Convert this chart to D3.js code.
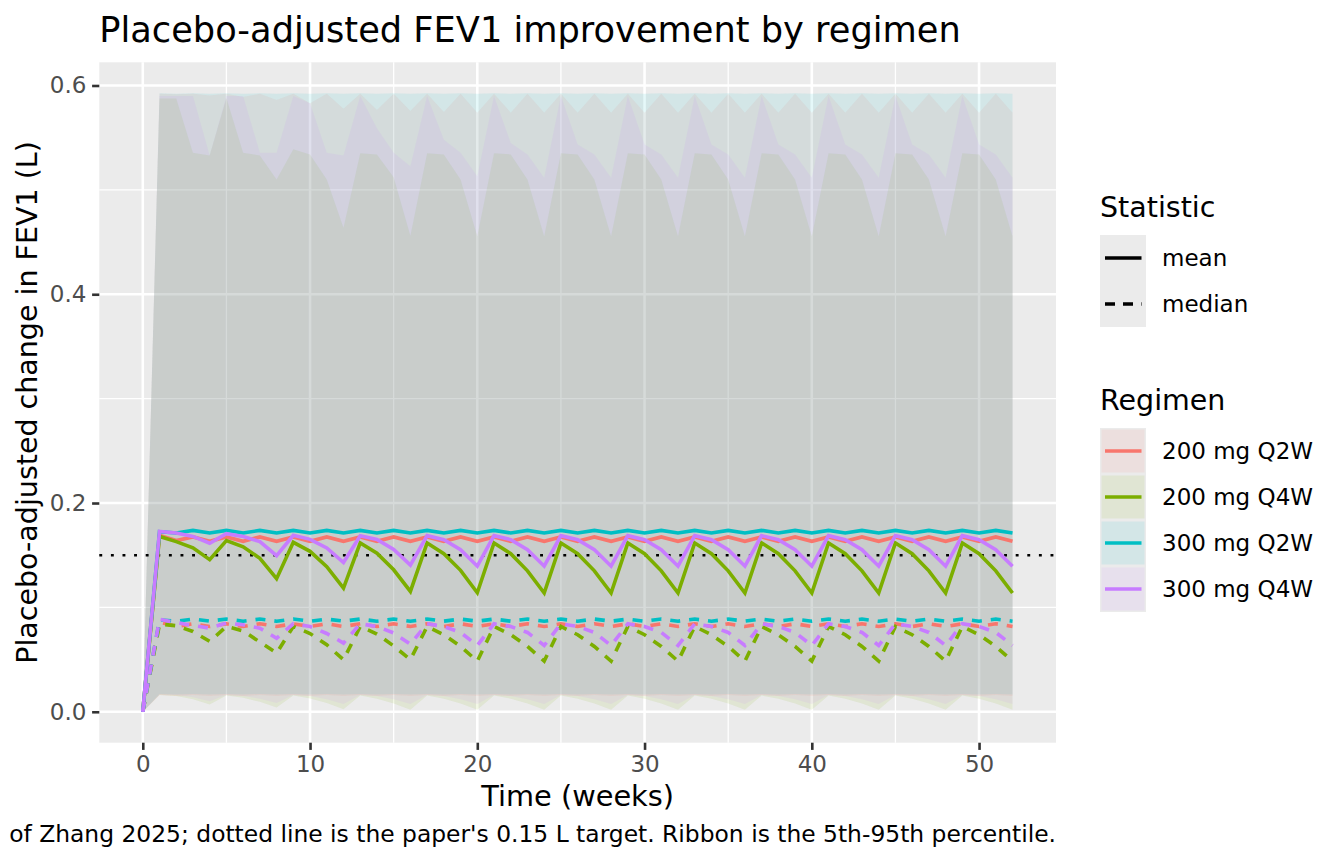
<!DOCTYPE html>
<html><head><meta charset="utf-8">
<script src="https://cdn.jsdelivr.net/npm/d3@7"></script>
<style>
html,body{margin:0;padding:0;background:#fff;}
svg{display:block;font-family:"DejaVu Sans",sans-serif;}
</style></head><body>
<svg id="chart" width="1344" height="864"></svg>
<script>
// ---------- DATA ----------
const weeks = [0,1,2,3,4,5,6,7,8,9,10,11,12,13,14,15,16,17,18,19,20,21,22,23,24,25,26,27,28,29,30,31,32,33,34,35,36,37,38,39,40,41,42,43,44,45,46,47,48,49,50,51,52];
const regimens = ["200 mg Q2W","200 mg Q4W","300 mg Q2W","300 mg Q4W"];
const statistics = ["mean","median"];
const xTicks = [0,10,20,30,40,50];
const yTicks = [0,0.2,0.4,0.6];
const targetValue = 0.15;

// 200 mg Q2W
const mean_200Q2W = [0,0.1690,
 0.1640,0.1675,0.1633,0.1675,0.1633,0.1675,0.1633,0.1675,0.1633,0.1675,
 0.1633,0.1675,0.1633,0.1675,0.1633,0.1675,0.1633,0.1675,0.1633,0.1675,
 0.1633,0.1675,0.1633,0.1675,0.1633,0.1675,0.1633,0.1675,0.1633,0.1675,
 0.1633,0.1675,0.1633,0.1675,0.1633,0.1675,0.1633,0.1675,0.1633,0.1675,
 0.1633,0.1675,0.1633,0.1675,0.1633,0.1675,0.1633,0.1675,0.1633,0.1675,
 0.1633];
const median_200Q2W = [0,0.0860,
 0.0817,0.0843,0.0817,0.0843,0.0817,0.0843,0.0817,0.0843,0.0817,0.0843,
 0.0817,0.0843,0.0817,0.0843,0.0817,0.0843,0.0817,0.0843,0.0817,0.0843,
 0.0817,0.0843,0.0817,0.0843,0.0817,0.0843,0.0817,0.0843,0.0817,0.0843,
 0.0817,0.0843,0.0817,0.0843,0.0817,0.0843,0.0817,0.0843,0.0817,0.0843,
 0.0817,0.0843,0.0817,0.0843,0.0817,0.0843,0.0817,0.0843,0.0817,0.0843,
 0.0817];
const lo_200Q2W = [0,0.0160,
 0.0150,0.0160,0.0150,0.0160,0.0150,0.0160,0.0150,0.0160,0.0150,0.0160,
 0.0150,0.0160,0.0150,0.0160,0.0150,0.0160,0.0150,0.0160,0.0150,0.0160,
 0.0150,0.0160,0.0150,0.0160,0.0150,0.0160,0.0150,0.0160,0.0150,0.0160,
 0.0150,0.0160,0.0150,0.0160,0.0150,0.0160,0.0150,0.0160,0.0150,0.0160,
 0.0150,0.0160,0.0150,0.0160,0.0150,0.0160,0.0150,0.0160,0.0150,0.0160,
 0.0150];
const hi_200Q2W = [0,0.5920,
 0.5915,0.5920,0.5905,0.5920,0.5890,0.5920,0.5860,0.5920,0.5830,0.5920,
 0.5777,0.5920,0.5765,0.5920,0.5755,0.5920,0.5745,0.5920,0.5740,0.5920,
 0.5740,0.5920,0.5740,0.5920,0.5740,0.5920,0.5740,0.5920,0.5740,0.5920,
 0.5740,0.5920,0.5740,0.5920,0.5740,0.5920,0.5740,0.5920,0.5740,0.5920,
 0.5740,0.5920,0.5740,0.5920,0.5740,0.5920,0.5740,0.5920,0.5740,0.5920,
 0.5740];

// 200 mg Q4W
const mean_200Q4W = [0,0.1680,0.1630,0.1570,0.1457,0.1640,0.1580,0.1470,0.1275,
 0.1623,0.1537,0.1390,0.1185,0.1617,0.1520,0.1360,0.1153,0.1617,0.1515,0.1355,0.1140,
 0.1617,0.1515,0.1350,0.1138,0.1617,0.1515,0.1350,0.1138,
 0.1617,0.1515,0.1350,0.1138,0.1617,0.1515,0.1350,0.1138,
 0.1617,0.1515,0.1350,0.1138,0.1617,0.1515,0.1350,0.1138,
 0.1617,0.1515,0.1350,0.1138,0.1617,0.1515,0.1350,0.1138];
const median_200Q4W = [0,0.0840,0.0824,0.0769,0.0674,0.0817,0.0775,0.0668,0.0562,
 0.0817,0.0750,0.0642,0.0498,0.0817,0.0745,0.0630,0.0500,
 0.0817,0.0738,0.0626,0.0485,0.0817,0.0738,0.0626,0.0485,
 0.0817,0.0738,0.0626,0.0485,0.0817,0.0738,0.0626,0.0485,
 0.0817,0.0738,0.0626,0.0485,0.0817,0.0738,0.0626,0.0485,
 0.0817,0.0738,0.0626,0.0485,0.0817,0.0738,0.0626,0.0485,
 0.0817,0.0738,0.0626,0.0485];
const lo_200Q4W = [0,0.0160,0.0150,0.0120,0.0070,0.0155,0.0135,0.0095,0.0040,
 0.0155,0.0128,0.0085,0.0025,
 0.0155,0.0125,0.0080,0.0020,0.0155,0.0125,0.0080,0.0020,
 0.0155,0.0125,0.0080,0.0020,0.0155,0.0125,0.0080,0.0020,
 0.0155,0.0125,0.0080,0.0020,0.0155,0.0125,0.0080,0.0020,
 0.0155,0.0125,0.0080,0.0020,0.0155,0.0125,0.0080,0.0020,
 0.0155,0.0125,0.0080,0.0020,0.0155,0.0125,0.0080,0.0020];
const hi_200Q4W = [0,0.5875,0.5875,0.5355,0.5330,0.5880,0.5355,0.5330,0.5100,
 0.5390,0.5340,0.5100,0.4636,0.5350,0.5340,0.5120,0.4560,
 0.5350,0.5340,0.5100,0.4556,0.5350,0.5340,0.5100,0.4556,
 0.5350,0.5340,0.5100,0.4556,0.5350,0.5340,0.5100,0.4556,
 0.5350,0.5340,0.5100,0.4556,0.5350,0.5340,0.5100,0.4556,
 0.5350,0.5340,0.5100,0.4556,0.5350,0.5340,0.5100,0.4556,
 0.5350,0.5340,0.5100,0.4556];

// 300 mg Q2W
const mean_300Q2W = [0,0.1725,
 0.1713,0.1738,0.1713,0.1738,0.1713,0.1738,0.1713,0.1738,0.1713,0.1738,
 0.1713,0.1738,0.1713,0.1738,0.1713,0.1738,0.1713,0.1738,0.1713,0.1738,
 0.1713,0.1738,0.1713,0.1738,0.1713,0.1738,0.1713,0.1738,0.1713,0.1738,
 0.1713,0.1738,0.1713,0.1738,0.1713,0.1738,0.1713,0.1738,0.1713,0.1738,
 0.1713,0.1738,0.1713,0.1738,0.1713,0.1738,0.1713,0.1738,0.1713,0.1738,
 0.1713];
const median_300Q2W = [0,0.0880,
 0.0868,0.0888,0.0868,0.0888,0.0868,0.0888,0.0868,0.0888,0.0868,0.0888,
 0.0868,0.0888,0.0868,0.0888,0.0868,0.0888,0.0868,0.0888,0.0868,0.0888,
 0.0868,0.0888,0.0868,0.0888,0.0868,0.0888,0.0868,0.0888,0.0868,0.0888,
 0.0868,0.0888,0.0868,0.0888,0.0868,0.0888,0.0868,0.0888,0.0868,0.0888,
 0.0868,0.0888,0.0868,0.0888,0.0868,0.0888,0.0868,0.0888,0.0868,0.0888,
 0.0868];
const lo_300Q2W = [0,0.0170,
 0.0166,0.0170,0.0166,0.0170,0.0166,0.0170,0.0166,0.0170,0.0166,0.0170,
 0.0166,0.0170,0.0166,0.0170,0.0166,0.0170,0.0166,0.0170,0.0166,0.0170,
 0.0166,0.0170,0.0166,0.0170,0.0166,0.0170,0.0166,0.0170,0.0166,0.0170,
 0.0166,0.0170,0.0166,0.0170,0.0166,0.0170,0.0166,0.0170,0.0166,0.0170,
 0.0166,0.0170,0.0166,0.0170,0.0166,0.0170,0.0166,0.0170,0.0166,0.0170,
 0.0166];
const hi_300Q2W = [0,0.5925,
 0.5920,0.5925,0.5920,0.5925,0.5920,0.5925,0.5920,0.5925,0.5920,0.5925,
 0.5920,0.5925,0.5920,0.5925,0.5920,0.5925,0.5920,0.5925,0.5920,0.5925,
 0.5920,0.5925,0.5920,0.5925,0.5920,0.5925,0.5920,0.5925,0.5920,0.5925,
 0.5920,0.5925,0.5920,0.5925,0.5920,0.5925,0.5920,0.5925,0.5920,0.5925,
 0.5920,0.5925,0.5920,0.5925,0.5920,0.5925,0.5920,0.5925,0.5920,0.5925,
 0.5920];

// 300 mg Q4W
const mean_300Q4W = [0,0.1728,0.1712,0.1680,0.1615,0.1706,0.1680,0.1630,0.1495,
 0.1690,0.1652,0.1570,0.1430,0.1687,0.1650,0.1555,0.1405,
 0.1687,0.1649,0.1553,0.1395,0.1687,0.1649,0.1553,0.1395,
 0.1687,0.1649,0.1553,0.1395,0.1687,0.1649,0.1553,0.1395,
 0.1687,0.1649,0.1553,0.1395,0.1687,0.1649,0.1553,0.1395,
 0.1687,0.1649,0.1553,0.1395,0.1687,0.1649,0.1553,0.1395,
 0.1687,0.1649,0.1553,0.1395];
const median_300Q4W = [0,0.0885,0.0855,0.0826,0.0801,0.0850,0.0833,0.0801,0.0705,
 0.0843,0.0817,0.0750,0.0658,0.0843,0.0817,0.0755,0.0648,
 0.0843,0.0817,0.0760,0.0635,0.0843,0.0817,0.0760,0.0635,
 0.0843,0.0817,0.0760,0.0635,0.0843,0.0817,0.0760,0.0635,
 0.0843,0.0817,0.0760,0.0635,0.0843,0.0817,0.0760,0.0635,
 0.0843,0.0817,0.0760,0.0635,0.0843,0.0817,0.0760,0.0635,
 0.0843,0.0817,0.0760,0.0635];
const lo_300Q4W = [0,0.0165,0.0160,0.0140,0.0100,0.0160,0.0150,0.0125,0.0085,
 0.0160,0.0150,0.0120,0.0075,0.0160,0.0150,0.0120,0.0075,
 0.0160,0.0150,0.0120,0.0075,0.0160,0.0150,0.0120,0.0075,
 0.0160,0.0150,0.0120,0.0075,0.0160,0.0150,0.0120,0.0075,
 0.0160,0.0150,0.0120,0.0075,0.0160,0.0150,0.0120,0.0075,
 0.0160,0.0150,0.0120,0.0075,0.0160,0.0150,0.0120,0.0075,
 0.0160,0.0150,0.0120,0.0075];
const hi_300Q4W = [0,0.5900,0.5900,0.5900,0.5330,0.5900,0.5900,0.5355,0.5355,
 0.5900,0.5830,0.5355,0.5330,0.5900,0.5590,0.5355,0.5227,
 0.5900,0.5480,0.5355,0.5130,0.5900,0.5450,0.5340,0.5115,
 0.5900,0.5435,0.5340,0.5115,0.5900,0.5435,0.5340,0.5115,
 0.5900,0.5435,0.5340,0.5115,0.5900,0.5435,0.5340,0.5115,
 0.5900,0.5435,0.5340,0.5115,0.5900,0.5435,0.5340,0.5115,
 0.5900,0.5435,0.5340,0.5115];

// ---------- STYLE ----------
const colors = ["#F8766D","#7CAE00","#00BFC4","#C77CFF"];
const FONT = '"DejaVu Sans", sans-serif';
const LW = 3.6;

const seriesTable = [
  {name: regimens[0], mean: mean_200Q2W, median: median_200Q2W, lo: lo_200Q2W, hi: hi_200Q2W},
  {name: regimens[1], mean: mean_200Q4W, median: median_200Q4W, lo: lo_200Q4W, hi: hi_200Q4W},
  {name: regimens[2], mean: mean_300Q2W, median: median_300Q2W, lo: lo_300Q2W, hi: hi_300Q2W},
  {name: regimens[3], mean: mean_300Q4W, median: median_300Q4W, lo: lo_300Q4W, hi: hi_300Q4W}
];

const svg = d3.select("#chart");
const P = {l: 99.3, r: 1056, t: 62.3, b: 742.7};
const x = d3.scaleLinear().domain([-2.6, 54.6]).range([P.l, P.r]);
const y = d3.scaleLinear().domain([-0.02963, 0.62222]).range([P.b, P.t]);
const color = d3.scaleOrdinal().domain(regimens).range(colors);

// panel
svg.append("rect").attr("x", P.l).attr("y", P.t).attr("width", P.r - P.l).attr("height", P.b - P.t).attr("fill", "#EBEBEB");

const grid = svg.append("g");
const xMinor = [5,15,25,35,45];
const yMinor = [0.1,0.3,0.5];
grid.selectAll(".xm").data(xMinor).join("line").attr("x1", d => x(d)).attr("x2", d => x(d)).attr("y1", P.t).attr("y2", P.b).attr("stroke", "#fff").attr("stroke-width", 1.3);
grid.selectAll(".ym").data(yMinor).join("line").attr("y1", d => y(d)).attr("y2", d => y(d)).attr("x1", P.l).attr("x2", P.r).attr("stroke", "#fff").attr("stroke-width", 1.3);
grid.selectAll(".xM").data(xTicks).join("line").attr("x1", d => x(d)).attr("x2", d => x(d)).attr("y1", P.t).attr("y2", P.b).attr("stroke", "#fff").attr("stroke-width", 2.6);
grid.selectAll(".yM").data(yTicks).join("line").attr("y1", d => y(d)).attr("y2", d => y(d)).attr("x1", P.l).attr("x2", P.r).attr("stroke", "#fff").attr("stroke-width", 2.6);

// ribbons
const area = d3.area().x(d => x(d.w)).y0(d => y(d.lo)).y1(d => y(d.hi));
seriesTable.forEach(s => {
  const pts = weeks.map((w, i) => ({w, lo: s.lo[i], hi: s.hi[i]}));
  svg.append("path").datum(pts).attr("d", area).attr("fill", color(s.name)).attr("fill-opacity", 0.1);
});

// target line
svg.append("line").attr("x1", P.l).attr("x2", P.r).attr("y1", y(targetValue)).attr("y2", y(targetValue))
  .attr("stroke", "#000").attr("stroke-width", 2.4).attr("stroke-dasharray", "2.9,8.7");

// lines
const line = d3.line().x(d => x(d.w)).y(d => y(d.v));
seriesTable.forEach(s => {
  statistics.forEach(st => {
    const pts = weeks.map((w, i) => ({w, v: s[st][i]}));
    svg.append("path").datum(pts).attr("d", line).attr("fill", "none")
      .attr("stroke", color(s.name)).attr("stroke-width", LW)
      .attr("stroke-dasharray", st === "median" ? "10,9" : null);
  });
});

// axes
function styleAxis(g) {
  g.select(".domain").remove();
  g.selectAll(".tick line").attr("stroke", "#333333").attr("stroke-width", 2.6);
  g.selectAll(".tick text").attr("fill", "#4D4D4D").attr("font-size", 23).attr("font-family", FONT);
}
svg.append("g").attr("transform", `translate(0,${P.b})`)
  .call(d3.axisBottom(x).tickValues(xTicks).tickSize(7.2).tickPadding(5.7).tickFormat(d3.format("d")))
  .call(styleAxis);
svg.append("g").attr("transform", `translate(${P.l},0)`)
  .call(d3.axisLeft(y).tickValues(yTicks).tickSize(7.2).tickPadding(5.7).tickFormat(d3.format(".1f")))
  .call(styleAxis);

// titles
svg.append("text").attr("x", P.l).attr("y", 42).attr("font-size", 35.2).attr("fill", "#000")
  .text("Placebo-adjusted FEV1 improvement by regimen");
svg.append("text").attr("x", (P.l + P.r) / 2).attr("y", 806).attr("text-anchor", "middle").attr("font-size", 28.8)
  .text("Time (weeks)");
svg.append("text").attr("transform", `translate(37,${(P.t + P.b) / 2}) rotate(-90)`).attr("text-anchor", "middle").attr("font-size", 28.5)
  .text("Placebo-adjusted change in FEV1 (L)");
svg.append("text").attr("x", P.r).attr("y", 842).attr("text-anchor", "end").attr("font-size", 23.4)
  .text("of Zhang 2025; dotted line is the paper's 0.15 L target. Ribbon is the 5th-95th percentile.");

// legend: Statistic
const L = {x: 1100, key: 46};
svg.append("text").attr("x", L.x).attr("y", 217).attr("font-size", 28.5).text("Statistic");
const statG = svg.append("g").attr("transform", "translate(1100,235)");
statistics.forEach((st, i) => {
  statG.append("rect").attr("x", 0).attr("y", i * L.key).attr("width", L.key).attr("height", L.key).attr("fill", "#EBEBEB");
  statG.append("line").attr("x1", 5).attr("x2", 41.5).attr("y1", i * L.key + 23).attr("y2", i * L.key + 23)
    .attr("stroke", "#000").attr("stroke-width", LW).attr("stroke-dasharray", st === "median" ? "10,8" : null);
  statG.append("text").attr("x", 62).attr("y", i * L.key + 23).attr("dy", "0.36em").attr("font-size", 23).text(st);
});

// legend: Regimen
svg.append("text").attr("x", L.x).attr("y", 410).attr("font-size", 28.5).text("Regimen");
const regG = svg.append("g").attr("transform", "translate(1100,428)");
regimens.forEach((r, i) => {
  regG.append("rect").attr("x", 0).attr("y", i * L.key).attr("width", L.key).attr("height", L.key).attr("fill", "#EBEBEB");
  regG.append("rect").attr("x", 1.5).attr("y", i * L.key + 1.5).attr("width", L.key - 3).attr("height", L.key - 3)
    .attr("fill", color(r)).attr("fill-opacity", 0.1);
  regG.append("line").attr("x1", 5).attr("x2", 41.5).attr("y1", i * L.key + 23).attr("y2", i * L.key + 23)
    .attr("stroke", color(r)).attr("stroke-width", LW);
  regG.append("text").attr("x", 62).attr("y", i * L.key + 23).attr("dy", "0.36em").attr("font-size", 23).text(r);
});
</script>
</body></html>
